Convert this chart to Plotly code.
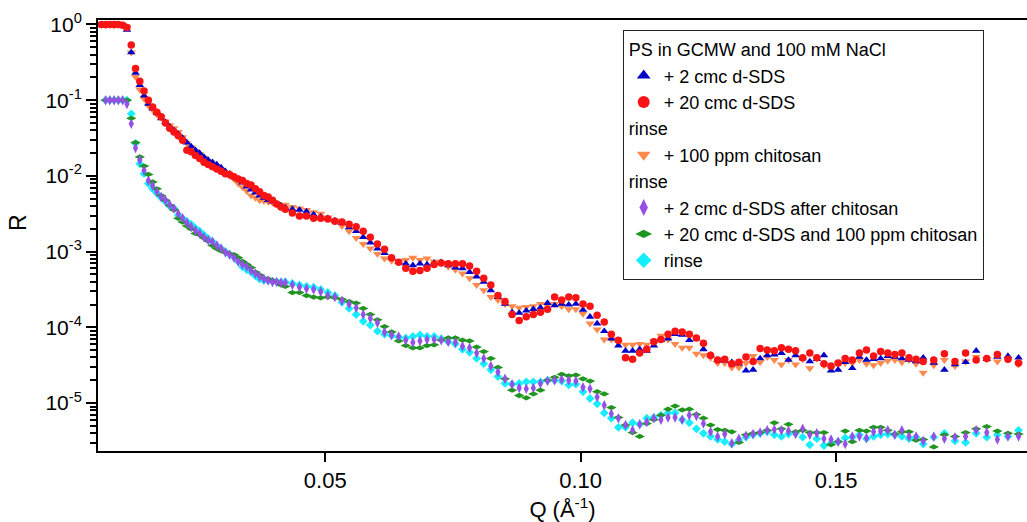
import plotly.graph_objects as go

# Q values (1/Angstrom), shared by all series
Q = [0.00616, 0.00700, 0.00784, 0.00868, 0.00951, 0.01035, 0.01119, 0.01203, 0.01286, 0.01370,
     0.01454, 0.01538, 0.01621, 0.01705, 0.01789, 0.01873, 0.01956, 0.02040, 0.02124, 0.02208,
     0.02292, 0.02375, 0.02459, 0.02543, 0.02627, 0.02710, 0.02794, 0.02878, 0.02962, 0.03045,
     0.03129, 0.03213, 0.03297, 0.03380, 0.03464, 0.03548, 0.03632, 0.03715, 0.03799, 0.03883,
     0.03967, 0.04050, 0.04134, 0.04218,
     0.04357, 0.04496, 0.04634, 0.04773, 0.04912, 0.05051, 0.05189, 0.05328, 0.05467, 0.05606,
     0.05744, 0.05883, 0.06022, 0.06161, 0.06299, 0.06438, 0.06577, 0.06716, 0.06854, 0.06993,
     0.07132, 0.07271, 0.07409, 0.07548, 0.07687, 0.07826, 0.07964, 0.08103, 0.08242, 0.08381,
     0.08519, 0.08658, 0.08797, 0.08936, 0.09074, 0.09213, 0.09352, 0.09491, 0.09629, 0.09768,
     0.09907, 0.10046, 0.10184, 0.10323, 0.10462, 0.10601, 0.10739, 0.10878, 0.11017, 0.11156,
     0.11294, 0.11433, 0.11572, 0.11711, 0.11849, 0.11988, 0.12127, 0.12266, 0.12404, 0.12543,
     0.12682, 0.12821, 0.12959, 0.13098, 0.13237, 0.13376, 0.13514, 0.13653, 0.13792, 0.13931,
     0.14069, 0.14208, 0.14347, 0.14486, 0.14624, 0.14763, 0.14902, 0.15041, 0.15179, 0.15318,
     0.15457, 0.15596, 0.15734, 0.15873, 0.16012, 0.16151, 0.16289, 0.16428, 0.16567, 0.16706,
     0.16913, 0.17121, 0.17328, 0.17536, 0.17743, 0.17950, 0.18158, 0.18365, 0.18573]

# log10(R) for each series
logR_2cmc = [0.00, 0.00, -0.01, 0.00, 0.00, -0.01, -0.07, -0.37, -0.64, -0.80,
             -0.94, -1.05, -1.11, -1.17, -1.24, -1.29, -1.35, -1.40, -1.45, -1.50,
             -1.56, -1.61, -1.66, -1.70, -1.75, -1.79, -1.82, -1.85, -1.89, -1.94,
             -1.97, -2.01, -2.04, -2.09, -2.14, -2.18, -2.22, -2.26, -2.29, -2.32,
             -2.34, -2.37, -2.39, -2.42,
             -2.44, -2.45, -2.47, -2.51, -2.54, -2.56, -2.59, -2.62, -2.68, -2.73,
             -2.81, -2.88, -2.96, -3.02, -3.08, -3.14, -3.16, -3.18, -3.16, -3.17,
             -3.15, -3.14, -3.18, -3.21, -3.22, -3.27, -3.33, -3.40, -3.51, -3.60,
             -3.69, -3.80, -3.81, -3.78, -3.76, -3.74, -3.68, -3.71, -3.69, -3.70,
             -3.69, -3.77, -3.86, -3.95, -4.05, -4.15, -4.24, -4.31, -4.31, -4.29,
             -4.31, -4.24, -4.17, -4.15, -4.09, -4.10, -4.17, -4.15, -4.29, -4.37,
             -4.43, -4.44, -4.46, -4.48, -4.57, -4.56, -4.41, -4.37, -4.36, -4.34,
             -4.43, -4.37, -4.41, -4.45, -4.42, -4.37, -4.57, -4.56, -4.46, -4.54,
             -4.39, -4.43, -4.42, -4.41, -4.38, -4.39, -4.41, -4.43, -4.45, -4.40,
             -4.47, -4.56, -4.49, -4.46, -4.31, -4.42, -4.39, -4.38, -4.40]

logR_20cmc = [0.00, 0.00, 0.00, 0.00, 0.00, -0.01, -0.04, -0.27, -0.58, -0.75,
              -0.88, -1.00, -1.09, -1.16, -1.22, -1.30, -1.37, -1.42, -1.47, -1.53,
              -1.66, -1.68, -1.73, -1.77, -1.82, -1.85, -1.88, -1.91, -1.94, -1.97,
              -1.98, -2.01, -2.04, -2.06, -2.10, -2.12, -2.17, -2.21, -2.26, -2.28,
              -2.32, -2.37, -2.41, -2.44,
              -2.49, -2.53, -2.53, -2.56, -2.56, -2.57, -2.60, -2.61, -2.64, -2.67,
              -2.73, -2.81, -2.90, -2.97, -3.08, -3.14, -3.22, -3.26, -3.25, -3.22,
              -3.17, -3.15, -3.16, -3.16, -3.16, -3.19, -3.26, -3.35, -3.44, -3.58,
              -3.66, -3.83, -3.91, -3.86, -3.83, -3.80, -3.76, -3.60, -3.64, -3.60,
              -3.61, -3.69, -3.72, -3.84, -3.93, -4.09, -4.17, -4.40, -4.42, -4.34,
              -4.29, -4.19, -4.16, -4.09, -4.05, -4.06, -4.09, -4.14, -4.21, -4.37,
              -4.43, -4.42, -4.48, -4.46, -4.39, -4.45, -4.28, -4.30, -4.31, -4.27,
              -4.29, -4.31, -4.40, -4.34, -4.40, -4.48, -4.51, -4.47, -4.41, -4.43,
              -4.34, -4.30, -4.38, -4.32, -4.34, -4.36, -4.34, -4.40, -4.42, -4.45,
              -4.43, -4.35, -4.45, -4.34, -4.43, -4.41, -4.36, -4.42, -4.47]

logR_chitosan = [0.00, -0.01, 0.00, -0.01, 0.00, -0.01, -0.03, -0.37, -0.69, -0.86,
                 -0.98, -1.07, -1.13, -1.19, -1.23, -1.28, -1.33, -1.37, -1.42, -1.49,
                 -1.57, -1.62, -1.67, -1.71, -1.76, -1.81, -1.85, -1.88, -1.92, -1.96,
                 -2.00, -2.04, -2.10, -2.15, -2.20, -2.26, -2.29, -2.32, -2.33, -2.34,
                 -2.35, -2.37, -2.39, -2.38,
                 -2.41, -2.43, -2.45, -2.48, -2.50, -2.55, -2.59, -2.66, -2.73, -2.82,
                 -2.90, -2.96, -3.03, -3.09, -3.12, -3.13, -3.11, -3.08, -3.11, -3.09,
                 -3.13, -3.15, -3.20, -3.24, -3.29, -3.35, -3.44, -3.51, -3.60, -3.64,
                 -3.69, -3.72, -3.74, -3.73, -3.72, -3.69, -3.71, -3.69, -3.72, -3.76,
                 -3.76, -3.82, -3.95, -4.03, -4.16, -4.16, -4.20, -4.23, -4.23, -4.22,
                 -4.23, -4.18, -4.11, -4.16, -4.22, -4.27, -4.27, -4.35, -4.37, -4.40,
                 -4.47, -4.47, -4.53, -4.53, -4.47, -4.38, -4.46, -4.39, -4.43, -4.49,
                 -4.43, -4.49, -4.42, -4.54, -4.41, -4.50, -4.54, -4.47, -4.47, -4.47,
                 -4.43, -4.48, -4.50, -4.47, -4.44, -4.43, -4.46, -4.43, -4.48, -4.60,
                 -4.50, -4.43, -4.51, -4.45, -4.39, -4.42, -4.45, -4.42, -4.49]

logR_2cmc_after = [None, -1.00, -1.00, -1.00, -1.00, -1.00, -1.05, -1.31, -1.63, -1.79,
                   -1.93, -2.06, -2.13, -2.21, -2.28, -2.32, -2.38, -2.43, -2.50, -2.56,
                   -2.62, -2.67, -2.72, -2.76, -2.81, -2.85, -2.87, -2.92, -2.96, -3.01,
                   -3.04, -3.08, -3.13, -3.17, -3.20, -3.25, -3.29, -3.33, -3.36, -3.38,
                   -3.40, -3.40, -3.41, -3.41,
                   -3.44, -3.47, -3.49, -3.50, -3.53, -3.58, -3.60, -3.65, -3.69, -3.74,
                   -3.83, -3.88, -3.94, -4.06, -4.10, -4.12, -4.17, -4.20, -4.18, -4.16,
                   -4.16, -4.17, -4.19, -4.20, -4.25, -4.27, -4.34, -4.41, -4.51, -4.59,
                   -4.68, -4.75, -4.80, -4.81, -4.80, -4.74, -4.71, -4.70, -4.69, -4.70,
                   -4.71, -4.79, -4.81, -4.92, -5.03, -5.14, -5.20, -5.29, -5.36, -5.28,
                   -5.25, -5.20, -5.22, -5.19, -5.19, -5.22, -5.16, -5.17, -5.27, -5.38,
                   -5.44, -5.41, -5.53, -5.47, -5.43, -5.41, -5.39, -5.36, -5.35, -5.36,
                   -5.37, -5.41, -5.34, -5.42, -5.40, -5.47, -5.48, -5.51, -5.54, -5.44,
                   -5.44, -5.46, -5.38, -5.37, -5.36, -5.42, -5.36, -5.44, -5.44, -5.50,
                   -5.44, -5.47, -5.45, -5.44, -5.36, -5.39, -5.48, -5.44, -5.44]

logR_20cmc_chitosan = [None, -1.00, -1.00, -1.00, -1.00, -1.00, -1.00, -1.24, -1.56, -1.75,
                       -1.87, -1.98, -2.08, -2.17, -2.26, -2.32, -2.39, -2.45, -2.56, -2.61,
                       -2.66, -2.70, -2.76, -2.78, -2.82, -2.86, -2.92, -2.96, -2.99, -3.01,
                       -3.03, -3.04, -3.08, -3.13, -3.17, -3.21, -3.27, -3.31, -3.35, -3.36,
                       -3.38, -3.40, -3.44, -3.46,
                       -3.54, -3.54, -3.58, -3.60, -3.61, -3.60, -3.61, -3.63, -3.66, -3.68,
                       -3.75, -3.83, -3.90, -3.99, -4.06, -4.18, -4.24, -4.27, -4.27, -4.24,
                       -4.23, -4.17, -4.14, -4.14, -4.17, -4.18, -4.26, -4.32, -4.41, -4.53,
                       -4.68, -4.83, -4.90, -4.93, -4.88, -4.83, -4.70, -4.66, -4.62, -4.64,
                       -4.63, -4.68, -4.71, -4.85, -4.88, -5.06, -5.19, -5.29, -5.39, -5.44,
                       -5.27, -5.22, -5.16, -5.08, -5.04, -5.09, -5.08, -5.15, -5.20, -5.29,
                       -5.35, -5.36, -5.38, -5.52, -5.42, -5.40, -5.39, -5.36, -5.26, -5.34,
                       -5.28, -5.38, -5.36, -5.39, -5.39, -5.39, -5.55, -5.51, -5.37, -5.51,
                       -5.36, -5.37, -5.32, -5.32, -5.36, -5.41, -5.38, -5.38, -5.49, -5.48,
                       -5.58, -5.42, -5.44, -5.39, -5.34, -5.31, -5.37, -5.40, -5.41]

logR_rinse_final = [None, -1.00, -1.00, -1.00, -1.00, -1.00, -1.00, -1.18, -1.57, -1.84,
                    -1.97, -2.10, -2.17, -2.23, -2.29, -2.34, -2.40, -2.43, -2.52, -2.56,
                    -2.60, -2.64, -2.69, -2.73, -2.78, -2.83, -2.87, -2.92, -2.96, -3.00,
                    -3.04, -3.07, -3.13, -3.20, -3.24, -3.27, -3.32, -3.36, -3.38, -3.38,
                    -3.39, -3.40, -3.40, -3.40,
                    -3.42, -3.44, -3.46, -3.47, -3.50, -3.54, -3.58, -3.67, -3.75, -3.83,
                    -3.92, -3.97, -4.05, -4.09, -4.11, -4.13, -4.14, -4.12, -4.10, -4.12,
                    -4.12, -4.15, -4.19, -4.22, -4.29, -4.33, -4.41, -4.48, -4.56, -4.65,
                    -4.74, -4.75, -4.74, -4.72, -4.72, -4.72, -4.70, -4.70, -4.71, -4.76,
                    -4.75, -4.85, -4.94, -5.01, -5.13, -5.20, -5.32, -5.32, -5.26, -5.28,
                    -5.20, -5.19, -5.16, -5.13, -5.13, -5.22, -5.26, -5.34, -5.40, -5.44,
                    -5.48, -5.51, -5.54, -5.49, -5.45, -5.42, -5.40, -5.38, -5.42, -5.44,
                    -5.41, -5.40, -5.45, -5.55, -5.47, -5.56, -5.53, -5.51, -5.46, -5.45,
                    -5.42, -5.47, -5.44, -5.42, -5.41, -5.42, -5.44, -5.47, -5.45, -5.54,
                    -5.45, -5.40, -5.50, -5.52, -5.40, -5.45, -5.42, -5.44, -5.36]

y_tick_vals = [1, 0.1, 0.01, 0.001, 0.0001, 0.00001]
y_tick_text = ["10<sup>0</sup>", "10<sup>-1</sup>", "10<sup>-2</sup>",
               "10<sup>-3</sup>", "10<sup>-4</sup>", "10<sup>-5</sup>"]
x_tick_vals = [0.05, 0.10, 0.15]
x_tick_text = ["0.05", "0.10", "0.15"]


def to_R(logs):
    return [None if v is None else 10 ** v for v in logs]


FONT = "Liberation Sans, Arial, sans-serif"
LEG = 18

# (name, data, symbol, size, color, group, group title, legend rank)
series = [
    ("+ 100 ppm chitosan", logR_chitosan, "triangle-down", 8, "#FF8A4C", "g2", "rinse", 3),
    ("+ 2 cmc d-SDS", logR_2cmc, "triangle-up", 7.5, "#0000C8", "g1", "PS in GCMW and 100 mM NaCl", 1),
    ("+ 20 cmc d-SDS", logR_20cmc, "circle", 7.5, "#F81414", "g1", "PS in GCMW and 100 mM NaCl", 2),
    ("rinse", logR_rinse_final, "diamond", 6.8, "#14EEFF", "g3", "rinse", 6),
    ("+ 20 cmc d-SDS and 100 ppm chitosan", logR_20cmc_chitosan, "diamond-wide", 7.5, "#1E961E", "g3", "rinse", 5),
    ("+ 2 cmc d-SDS after chitosan", logR_2cmc_after, "diamond-tall", 7.5, "#9650E6", "g3", "rinse", 4),
]

fig = go.Figure()
for name, logs, sym, size, col, grp, gtitle, rank in series:
    fig.add_trace(go.Scatter(
        x=Q, y=to_R(logs), mode="markers", name=name,
        marker=dict(symbol=sym, size=size, color=col, line=dict(width=0)),
        legendgroup=grp, legendrank=rank,
        legendgrouptitle=dict(text=gtitle, font=dict(family=FONT, size=LEG, color="black")),
    ))

fig.update_layout(
    width=1027, height=522,
    margin=dict(l=98, r=0, t=20, b=71),
    plot_bgcolor="white", paper_bgcolor="white",
    font=dict(family=FONT, color="black"),
    showlegend=True,
    legend=dict(
        x=0.5648, y=0.977, xanchor="left", yanchor="top",
        bgcolor="white", bordercolor="#222", borderwidth=1,
        font=dict(family=FONT, size=LEG, color="black"),
        itemsizing="constant", tracegroupgap=0, traceorder="grouped",
    ),
    xaxis=dict(
        range=[0.00552, 0.18738], showgrid=False, zeroline=False,
        showline=True, linecolor="black", linewidth=2, mirror=True,
        ticks="outside", ticklen=9, tickwidth=2, tickcolor="black",
        tickmode="array", tickvals=x_tick_vals, ticktext=x_tick_text,
        tickfont=dict(family=FONT, size=22),
        title=dict(text="Q (Å<sup>-1</sup>)", font=dict(family=FONT, size=22), standoff=12),
    ),
    yaxis=dict(
        type="log", range=[-5.633, 0.059], showgrid=False, zeroline=False,
        showline=True, linecolor="black", linewidth=2,
        ticks="outside", ticklen=10, tickwidth=2, tickcolor="black",
        tickmode="array", tickvals=y_tick_vals, ticktext=y_tick_text,
        tickfont=dict(family=FONT, size=21),
        minor=dict(ticks="outside", ticklen=6, tickwidth=2, tickcolor="black",
                   dtick="D1", showgrid=False),
    ),
    annotations=[dict(
        text="R", xref="paper", yref="paper", x=-0.0861, y=0.529,
        xanchor="center", yanchor="middle", textangle=-90, showarrow=False,
        font=dict(family=FONT, size=23, color="black"),
    )],
)

fig.write_html("out.html")
